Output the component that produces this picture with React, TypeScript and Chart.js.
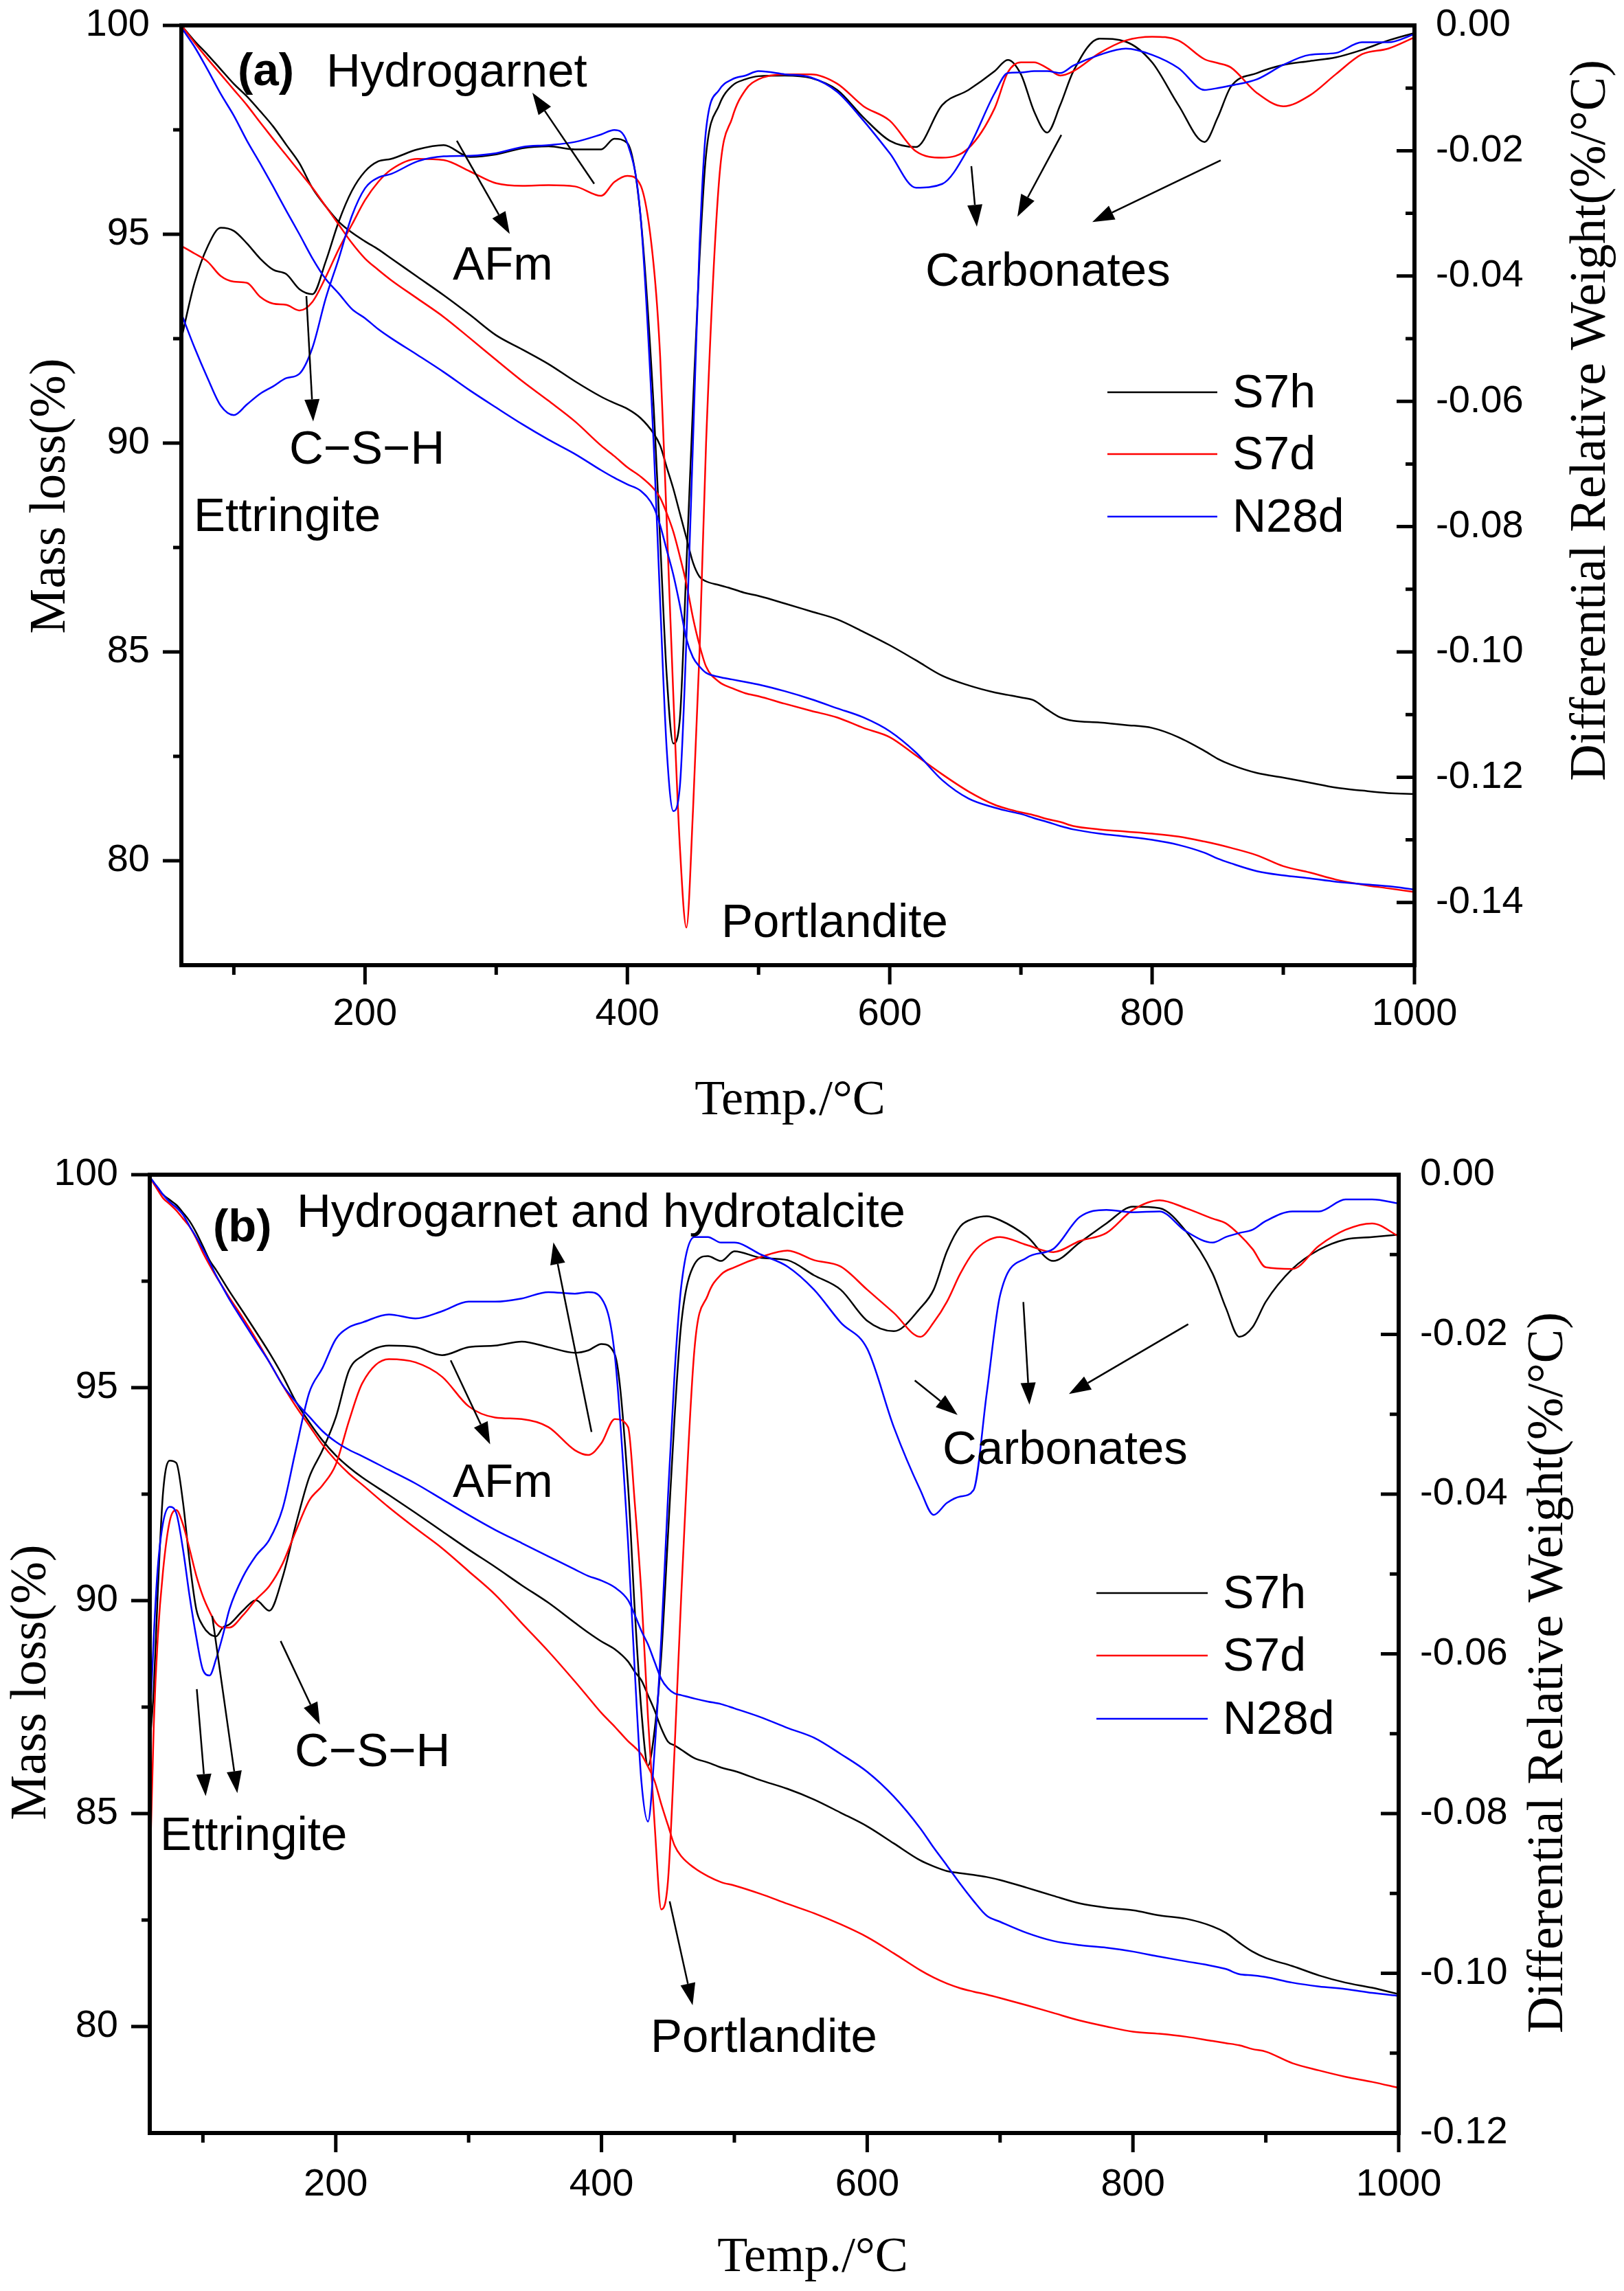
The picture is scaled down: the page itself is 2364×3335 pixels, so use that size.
import React, { useEffect, useRef } from "react";
import { Chart, registerables } from "chart.js";

Chart.register(...registerables);

const SANS = '"Liberation Sans", Arial, sans-serif';
const SERIF = '"Liberation Serif", "Times New Roman", serif';

const sampleNames = ["S7h", "S7d", "N28d"];
const sampleColors = ["#000000", "#ff0000", "#0000ff"];

const tempTicks = [200, 400, 600, 800, 1000];
const massTicks = [80, 85, 90, 95, 100];
const dtgTicksA = [0, -0.02, -0.04, -0.06, -0.08, -0.1, -0.12, -0.14];
const dtgTicksB = [0, -0.02, -0.04, -0.06, -0.08, -0.1, -0.12];

// ---- panel (a) ----
const tempA = [60, 70, 80, 90, 100, 110, 120, 130, 140, 150, 160, 170, 180, 190, 200, 210, 220, 240, 260, 280, 300, 320, 340, 360, 380, 390, 400, 410, 420, 425, 430, 435, 440, 445, 450, 455, 460, 470, 480, 490, 500, 520, 540, 560, 580, 600, 620, 640, 660, 680, 690, 700, 710, 720, 730, 740, 760, 780, 800, 820, 840, 850, 860, 880, 900, 920, 940, 960, 980, 1000];

const tgS7hA = [100.0, 99.63, 99.3, 98.95, 98.6, 98.3, 97.95, 97.58, 97.14, 96.7, 96.1, 95.67, 95.3, 95.04, 94.83, 94.64, 94.42, 93.98, 93.54, 93.07, 92.58, 92.24, 91.89, 91.48, 91.11, 90.96, 90.82, 90.6, 90.23, 89.94, 89.42, 88.91, 88.32, 87.73, 87.14, 86.8, 86.69, 86.6, 86.51, 86.41, 86.34, 86.16, 85.97, 85.78, 85.48, 85.16, 84.8, 84.43, 84.2, 84.03, 83.97, 83.91, 83.84, 83.62, 83.43, 83.35, 83.31, 83.25, 83.18, 82.96, 82.63, 82.44, 82.3, 82.1, 81.99, 81.87, 81.75, 81.68, 81.62, 81.6];
const tgS7dA = [100.0, 99.59, 99.2, 98.83, 98.46, 98.09, 97.68, 97.28, 96.89, 96.5, 96.11, 95.67, 95.23, 94.79, 94.42, 94.15, 93.9, 93.46, 93.02, 92.51, 91.99, 91.48, 91.01, 90.52, 89.94, 89.69, 89.42, 89.2, 88.91, 88.69, 88.32, 87.88, 87.29, 86.63, 85.82, 85.16, 84.65, 84.28, 84.13, 84.01, 83.94, 83.76, 83.59, 83.43, 83.18, 82.96, 82.52, 82.07, 81.66, 81.34, 81.24, 81.16, 81.09, 81.0, 80.93, 80.83, 80.75, 80.7, 80.65, 80.58, 80.46, 80.39, 80.31, 80.13, 79.87, 79.72, 79.55, 79.43, 79.34, 79.25];
const tgN28dA = [99.95, 99.49, 98.94, 98.36, 97.84, 97.24, 96.7, 96.14, 95.56, 95.0, 94.42, 93.93, 93.58, 93.21, 92.99, 92.73, 92.51, 92.11, 91.7, 91.26, 90.85, 90.45, 90.08, 89.74, 89.35, 89.17, 89.01, 88.86, 88.47, 88.03, 87.44, 86.85, 86.12, 85.31, 84.87, 84.65, 84.5, 84.4, 84.34, 84.28, 84.22, 84.06, 83.87, 83.65, 83.43, 83.1, 82.59, 81.93, 81.49, 81.27, 81.19, 81.12, 81.02, 80.93, 80.83, 80.75, 80.65, 80.58, 80.5, 80.38, 80.19, 80.05, 79.94, 79.75, 79.65, 79.58, 79.5, 79.44, 79.39, 79.31];

const dtgS7hA = [-0.05, -0.0411, -0.0353, -0.0323, -0.0328, -0.0348, -0.0372, -0.039, -0.0397, -0.0421, -0.0429, -0.0377, -0.0313, -0.0264, -0.0233, -0.0217, -0.0213, -0.0198, -0.0191, -0.021, -0.0206, -0.0196, -0.0193, -0.0198, -0.0198, -0.0181, -0.0188, -0.0304, -0.0607, -0.0823, -0.1038, -0.1146, -0.1107, -0.0862, -0.0607, -0.0372, -0.0206, -0.0127, -0.0096, -0.0086, -0.0081, -0.008, -0.0084, -0.0103, -0.0147, -0.0184, -0.0194, -0.0127, -0.0103, -0.0073, -0.0055, -0.0078, -0.0137, -0.0171, -0.0127, -0.0073, -0.0021, -0.0026, -0.0059, -0.0127, -0.0186, -0.0147, -0.0098, -0.0076, -0.0063, -0.0057, -0.0051, -0.0039, -0.0024, -0.0012];
const dtgS7dA = [-0.0352, -0.0364, -0.0377, -0.04, -0.0409, -0.0411, -0.0433, -0.0444, -0.0446, -0.0455, -0.0441, -0.0402, -0.0357, -0.0318, -0.0279, -0.025, -0.023, -0.0213, -0.0215, -0.0233, -0.0252, -0.0256, -0.0255, -0.0257, -0.0272, -0.025, -0.024, -0.0255, -0.0382, -0.0529, -0.0793, -0.1068, -0.131, -0.144, -0.1254, -0.1, -0.0666, -0.0245, -0.0147, -0.0103, -0.0086, -0.0078, -0.0078, -0.0093, -0.0129, -0.0152, -0.0201, -0.0211, -0.0196, -0.0132, -0.0075, -0.0059, -0.0059, -0.0068, -0.008, -0.0073, -0.0044, -0.0024, -0.0018, -0.0024, -0.0054, -0.006, -0.0067, -0.0108, -0.0129, -0.0112, -0.0078, -0.0046, -0.0037, -0.0019];
const dtgN28dA = [-0.046, -0.0514, -0.0563, -0.0607, -0.0622, -0.0605, -0.0588, -0.0576, -0.0563, -0.0556, -0.0514, -0.0436, -0.0372, -0.0304, -0.026, -0.0243, -0.0237, -0.0217, -0.0209, -0.0208, -0.0204, -0.0194, -0.0191, -0.0186, -0.0174, -0.0167, -0.0188, -0.0304, -0.0666, -0.0921, -0.1156, -0.1254, -0.1215, -0.098, -0.0666, -0.0352, -0.0166, -0.0103, -0.0086, -0.008, -0.0073, -0.0078, -0.0083, -0.0106, -0.0152, -0.0204, -0.0259, -0.0253, -0.0196, -0.0108, -0.0076, -0.0075, -0.0073, -0.0073, -0.0076, -0.0064, -0.0047, -0.0037, -0.0047, -0.0068, -0.0103, -0.01, -0.0096, -0.0086, -0.0063, -0.0047, -0.0044, -0.0027, -0.0027, -0.0014];

// ---- panel (b) ----
const tempB = [60, 63, 66, 70, 75, 80, 85, 90, 95, 100, 105, 110, 115, 120, 130, 140, 150, 160, 170, 180, 190, 200, 210, 220, 240, 260, 280, 300, 320, 340, 360, 380, 390, 400, 410, 420, 425, 430, 435, 440, 445, 450, 455, 460, 470, 480, 490, 500, 520, 540, 560, 580, 600, 620, 640, 650, 660, 670, 680, 690, 700, 720, 740, 760, 780, 800, 820, 840, 860, 870, 880, 890, 900, 920, 940, 960, 980, 1000];

const tgS7hB = [99.94, 99.82, 99.69, 99.53, 99.41, 99.29, 99.11, 98.91, 98.64, 98.32, 97.99, 97.76, 97.51, 97.26, 96.79, 96.31, 95.82, 95.28, 94.67, 94.19, 93.76, 93.41, 93.13, 92.89, 92.48, 92.06, 91.63, 91.2, 90.79, 90.36, 89.95, 89.48, 89.25, 89.04, 88.86, 88.57, 88.33, 88.13, 87.78, 87.42, 87.0, 86.69, 86.6, 86.5, 86.3, 86.2, 86.08, 86.0, 85.78, 85.58, 85.33, 85.02, 84.7, 84.3, 83.9, 83.76, 83.65, 83.6, 83.56, 83.51, 83.44, 83.26, 83.07, 82.89, 82.79, 82.73, 82.61, 82.53, 82.35, 82.2, 81.97, 81.76, 81.61, 81.42, 81.2, 81.03, 80.91, 80.76];
const tgS7dB = [99.94, 99.79, 99.64, 99.45, 99.31, 99.16, 98.97, 98.78, 98.5, 98.17, 97.88, 97.61, 97.36, 97.11, 96.64, 96.14, 95.6, 95.06, 94.56, 94.11, 93.66, 93.29, 92.98, 92.72, 92.19, 91.7, 91.23, 90.69, 90.14, 89.47, 88.81, 88.1, 87.73, 87.36, 87.04, 86.7, 86.56, 86.39, 86.1, 85.76, 85.22, 84.73, 84.25, 84.0, 83.72, 83.53, 83.39, 83.31, 83.11, 82.88, 82.66, 82.4, 82.1, 81.72, 81.32, 81.15, 81.01, 80.9, 80.82, 80.75, 80.67, 80.5, 80.32, 80.14, 80.0, 79.88, 79.83, 79.76, 79.66, 79.61, 79.56, 79.47, 79.41, 79.14, 78.97, 78.82, 78.7, 78.56];
const tgN28dB = [99.95, 99.82, 99.7, 99.53, 99.36, 99.23, 99.06, 98.79, 98.53, 98.25, 97.95, 97.63, 97.35, 97.07, 96.57, 96.08, 95.6, 95.06, 94.66, 94.32, 93.98, 93.73, 93.54, 93.39, 93.07, 92.75, 92.38, 92.01, 91.66, 91.35, 91.04, 90.73, 90.58, 90.47, 90.31, 90.01, 89.67, 89.29, 88.97, 88.56, 88.16, 87.94, 87.82, 87.78, 87.7, 87.63, 87.57, 87.47, 87.26, 87.01, 86.78, 86.4, 85.98, 85.4, 84.65, 84.2, 83.78, 83.35, 82.95, 82.6, 82.46, 82.2, 82.01, 81.91, 81.85, 81.76, 81.64, 81.53, 81.42, 81.35, 81.23, 81.2, 81.16, 81.03, 80.94, 80.88, 80.79, 80.72];

const dtgS7hB = [-0.0712, -0.0645, -0.0524, -0.0398, -0.0358, -0.0361, -0.041, -0.0485, -0.0544, -0.0565, -0.0575, -0.0578, -0.0567, -0.0563, -0.0546, -0.0533, -0.0546, -0.0504, -0.0438, -0.0379, -0.0345, -0.0304, -0.0245, -0.0227, -0.0214, -0.0216, -0.0226, -0.0216, -0.0214, -0.0209, -0.0216, -0.0223, -0.022, -0.0212, -0.0225, -0.039, -0.0544, -0.0671, -0.074, -0.0695, -0.0602, -0.0453, -0.0304, -0.0187, -0.0112, -0.0102, -0.0108, -0.0096, -0.0104, -0.0107, -0.0126, -0.0144, -0.0183, -0.0196, -0.0167, -0.0144, -0.0096, -0.0065, -0.0055, -0.0052, -0.0057, -0.0077, -0.0108, -0.0085, -0.0061, -0.004, -0.0042, -0.0071, -0.0124, -0.0167, -0.0203, -0.0191, -0.0159, -0.0118, -0.0094, -0.0081, -0.0078, -0.0075];
const dtgS7dB = [-0.088, -0.069, -0.058, -0.0496, -0.0434, -0.042, -0.0438, -0.0469, -0.0502, -0.0528, -0.0547, -0.0562, -0.0567, -0.0567, -0.0552, -0.0532, -0.0515, -0.0487, -0.0446, -0.0408, -0.0389, -0.0363, -0.0308, -0.0261, -0.0231, -0.0235, -0.0253, -0.029, -0.0304, -0.0306, -0.0316, -0.0345, -0.0351, -0.0336, -0.0306, -0.0316, -0.041, -0.0524, -0.068, -0.0814, -0.092, -0.0885, -0.072, -0.0528, -0.0218, -0.0151, -0.0125, -0.0116, -0.0103, -0.0095, -0.0107, -0.0115, -0.0144, -0.0173, -0.0203, -0.0185, -0.0159, -0.0124, -0.0097, -0.0083, -0.0078, -0.0088, -0.0097, -0.0083, -0.0073, -0.0044, -0.0032, -0.0042, -0.0055, -0.0061, -0.0075, -0.0093, -0.0116, -0.0118, -0.0089, -0.0069, -0.0061, -0.0077];
const dtgN28dB = [-0.0696, -0.0579, -0.0493, -0.0436, -0.0416, -0.0424, -0.0469, -0.0528, -0.0579, -0.062, -0.0627, -0.0606, -0.0577, -0.0544, -0.0504, -0.0477, -0.0457, -0.0418, -0.0344, -0.0273, -0.0242, -0.0206, -0.0191, -0.0185, -0.0175, -0.018, -0.0171, -0.0159, -0.0159, -0.0155, -0.0147, -0.0149, -0.0147, -0.0155, -0.0226, -0.0461, -0.062, -0.0759, -0.081, -0.072, -0.058, -0.0405, -0.0249, -0.014, -0.0078, -0.0078, -0.0085, -0.0085, -0.01, -0.0115, -0.0144, -0.0185, -0.0218, -0.0316, -0.0395, -0.0426, -0.0411, -0.0403, -0.0395, -0.0273, -0.0151, -0.0104, -0.0093, -0.0053, -0.0044, -0.0047, -0.0046, -0.0071, -0.0085, -0.0078, -0.0073, -0.0069, -0.0058, -0.0046, -0.0046, -0.0031, -0.0031, -0.0036];

type Note = { text: string; t: number; m: number; bold?: boolean };
type Arrow = [number, number, number, number];

const notesA: Note[] = [
  { text: "(a)", t: 103, m: 98.57, bold: true },
  { text: "Hydrogarnet", t: 170.5, m: 98.54 },
  { text: "AFm", t: 266.9, m: 93.91 },
  { text: "C\u2212S\u2212H", t: 142.2, m: 89.5 },
  { text: "Ettringite", t: 69.4, m: 87.89 },
  { text: "Portlandite", t: 471.6, m: 78.18 },
  { text: "Carbonates", t: 627.1, m: 93.76 },
];
const arrowsA: Arrow[] = [
  [374.7, 96.21, 327.6, 98.39],
  [270, 97.24, 310.3, 95.01],
  [155.3, 93.52, 160.5, 90.52],
  [662.2, 96.63, 666.4, 95.18],
  [730.8, 97.38, 697.3, 95.42],
  [852.3, 96.77, 754.4, 95.29],
];
const notesB: Note[] = [
  { text: "(b)", t: 107.6, m: 98.43, bold: true },
  { text: "Hydrogarnet and hydrotalcite", t: 170.6, m: 98.77 },
  { text: "AFm", t: 288, m: 92.44 },
  { text: "C\u2212S\u2212H", t: 169.1, m: 86.11 },
  { text: "Ettringite", t: 67.8, m: 84.15 },
  { text: "Portlandite", t: 436.9, m: 79.4 },
  { text: "Carbonates", t: 656.7, m: 93.21 },
];
const arrowsB: Arrow[] = [
  [392.5, 93.96, 363.8, 98.41],
  [286.5, 95.64, 316.2, 93.67],
  [158.5, 89.05, 188.1, 87.09],
  [95.4, 87.92, 102.1, 85.41],
  [107, 89.64, 125.9, 85.48],
  [451.3, 82.94, 468.6, 80.5],
  [635.8, 95.17, 668, 94.36],
  [717.5, 97.01, 722.1, 94.6],
  [841.6, 96.49, 751.8, 94.85],
];

type PanelSpec = {
  temps: number[];
  tg: number[][];
  dtg: number[][];
  dtgMin: number;
  dtgTicks: number[];
  height: number;
  top: number;
  leftW: number;
  rightW: number;
  bottomH: number;
  xPad: number;
  notes: Note[];
  arrows: Arrow[];
  legend: { x0: number; x1: number; tx: number; ys: number[] };
  yTitleL: [number, number];
  yTitleR: [number, number];
  xTitle: [number, number];
};

function drawArrow(ctx: CanvasRenderingContext2D, x1: number, y1: number, x2: number, y2: number) {
  const a = Math.atan2(y2 - y1, x2 - x1);
  const hl = 32;
  const hw = 11;
  const bx = x2 - hl * Math.cos(a);
  const by = y2 - hl * Math.sin(a);
  ctx.beginPath();
  ctx.moveTo(x1, y1);
  ctx.lineTo(bx, by);
  ctx.stroke();
  ctx.beginPath();
  ctx.moveTo(x2, y2);
  ctx.lineTo(bx + hw * Math.sin(a), by - hw * Math.cos(a));
  ctx.lineTo(bx - hw * Math.sin(a), by + hw * Math.cos(a));
  ctx.closePath();
  ctx.fill();
}

// stop chart.js from growing the plot area for tick-label overhang
const noPad = (s: any) => {
  s.paddingTop = 0;
  s.paddingBottom = 0;
  s.paddingLeft = 0;
  s.paddingRight = 0;
};

function Panel(p: PanelSpec) {
  const ref = useRef<HTMLCanvasElement>(null);

  useEffect(() => {
    const datasets: any[] = [];
    [2, 1, 0].forEach((i) => {
      datasets.push({
        label: sampleNames[i] + " TG",
        data: p.temps.map((t, k) => ({ x: t, y: p.tg[i][k] })),
        yAxisID: "yL",
        borderColor: sampleColors[i],
        borderWidth: 2.5,
        pointRadius: 0,
        cubicInterpolationMode: "monotone",
      });
      datasets.push({
        label: sampleNames[i] + " DTG",
        data: p.temps.map((t, k) => ({ x: t, y: p.dtg[i][k] })),
        yAxisID: "yR",
        borderColor: sampleColors[i],
        borderWidth: 2.5,
        pointRadius: 0,
        cubicInterpolationMode: "monotone",
      });
    });

    const tickFont = { family: SANS, size: 56, lineHeight: 1 };

    const decor = {
      id: "decor",
      afterDraw(chart: any) {
        const ctx: CanvasRenderingContext2D = chart.ctx;
        const { left, right, top, bottom } = chart.chartArea;
        const xs = chart.scales.x;
        const yl = chart.scales.yL;
        const yr = chart.scales.yR;
        ctx.save();
        ctx.strokeStyle = "#000";
        ctx.fillStyle = "#000";
        ctx.lineCap = "butt";

        // tick marks
        ctx.lineWidth = 5;
        ctx.beginPath();
        for (let v = 100; v <= 1000; v += 100) {
          const x = xs.getPixelForValue(v);
          const len = v % 200 === 0 ? 28 : 14;
          ctx.moveTo(x, bottom);
          ctx.lineTo(x, bottom + len);
        }
        for (let k = 0; k <= 8; k++) {
          const v = 80 + k * 2.5;
          const y = yl.getPixelForValue(v);
          const len = k % 2 === 0 ? 27 : 12;
          ctx.moveTo(left - len, y);
          ctx.lineTo(left, y);
        }
        const nR = Math.round(-p.dtgMin / 0.01);
        for (let k = 0; k < nR; k++) {
          const y = yr.getPixelForValue(-k * 0.01);
          const len = k % 2 === 0 ? 26 : 13;
          ctx.moveTo(right - len, y);
          ctx.lineTo(right, y);
        }
        ctx.stroke();

        // frame
        ctx.lineWidth = 6;
        ctx.strokeRect(left, top, right - left, bottom - top);

        // axis titles
        ctx.font = `74px ${SERIF}`;
        ctx.textAlign = "center";
        ctx.textBaseline = "alphabetic";
        ctx.save();
        ctx.translate(p.yTitleL[0], p.yTitleL[1]);
        ctx.rotate(-Math.PI / 2);
        ctx.fillText("Mass loss(%)", 0, 0);
        ctx.restore();
        ctx.save();
        ctx.translate(p.yTitleR[0], p.yTitleR[1]);
        ctx.rotate(-Math.PI / 2);
        ctx.fillText("Differential Relative Weight(%/\u00B0C)", 0, 0);
        ctx.restore();
        ctx.font = `72px ${SERIF}`;
        ctx.fillText("Temp./\u00B0C", p.xTitle[0], p.xTitle[1]);

        // labels and arrows
        ctx.textAlign = "left";
        p.notes.forEach((n) => {
          ctx.font = n.bold ? `bold 67px ${SANS}` : `69px ${SANS}`;
          ctx.fillText(n.text, xs.getPixelForValue(n.t), yl.getPixelForValue(n.m));
        });
        ctx.lineWidth = 2.5;
        p.arrows.forEach((a) => {
          drawArrow(
            ctx,
            xs.getPixelForValue(a[0]),
            yl.getPixelForValue(a[1]),
            xs.getPixelForValue(a[2]),
            yl.getPixelForValue(a[3])
          );
        });

        // legend
        ctx.font = `68px ${SANS}`;
        ctx.textBaseline = "middle";
        sampleNames.forEach((name, i) => {
          const y = p.legend.ys[i];
          ctx.strokeStyle = sampleColors[i];
          ctx.lineWidth = 2.5;
          ctx.beginPath();
          ctx.moveTo(p.legend.x0, y);
          ctx.lineTo(p.legend.x1, y);
          ctx.stroke();
          ctx.fillStyle = "#000";
          ctx.fillText(name, p.legend.tx, y + 3);
        });
        ctx.restore();
      },
    };

    const chart = new Chart(ref.current as HTMLCanvasElement, {
      type: "line",
      data: { datasets },
      plugins: [decor],
      options: {
        responsive: false,
        animation: false,
        devicePixelRatio: 1,
        layout: { padding: { left: 0, right: 0, top: p.top, bottom: 0 } },
        plugins: { legend: { display: false }, tooltip: { enabled: false } },
        scales: {
          x: {
            type: "linear",
            min: 60,
            max: 1000,
            grid: { display: false, drawTicks: false },
            border: { display: false },
            afterBuildTicks: (s: any) => {
              s.ticks = tempTicks.map((v) => ({ value: v }));
            },
            afterFit: (s: any) => {
              s.height = p.bottomH;
              noPad(s);
            },
            ticks: {
              font: tickFont,
              color: "#000",
              padding: p.xPad,
              autoSkip: false,
              maxRotation: 0,
              minRotation: 0,
              callback: (v: any) => String(v),
            },
          },
          yL: {
            type: "linear",
            position: "left",
            min: 77.5,
            max: 100,
            grid: { display: false, drawTicks: false },
            border: { display: false },
            afterBuildTicks: (s: any) => {
              s.ticks = massTicks.map((v) => ({ value: v }));
            },
            afterFit: (s: any) => {
              s.width = p.leftW;
              noPad(s);
            },
            ticks: { font: tickFont, color: "#000", padding: 46, callback: (v: any) => String(v) },
          },
          yR: {
            type: "linear",
            position: "right",
            min: p.dtgMin,
            max: 0,
            grid: { display: false, drawTicks: false },
            border: { display: false },
            afterBuildTicks: (s: any) => {
              s.ticks = p.dtgTicks.map((v) => ({ value: v }));
            },
            afterFit: (s: any) => {
              s.width = p.rightW;
              noPad(s);
            },
            ticks: {
              font: tickFont,
              color: "#000",
              padding: 31,
              callback: (v: any) => Number(v).toFixed(2),
            },
          },
        },
      } as any,
    });
    return () => chart.destroy();
  }, []);

  return <canvas ref={ref} width={2364} height={p.height} style={{ display: "block" }} />;
}

export default function App() {
  return (
    <div style={{ position: "absolute", left: 0, top: 0, width: 2364, height: 3335, background: "#fff" }}>
      <Panel
        temps={tempA}
        tg={[tgS7hA, tgS7dA, tgN28dA]}
        dtg={[dtgS7hA, dtgS7dA, dtgN28dA]}
        dtgMin={-0.15}
        dtgTicks={dtgTicksA}
        height={1680}
        top={37}
        leftW={264}
        rightW={305}
        bottomH={275}
        xPad={44}
        notes={notesA}
        arrows={arrowsA}
        legend={{ x0: 1612, x1: 1772, tx: 1794, ys: [571, 661, 752] }}
        yTitleL={[94, 722]}
        yTitleR={[2336, 612]}
        xTitle={[1150, 1622]}
      />
      <Panel
        temps={tempB}
        tg={[tgS7hB, tgS7dB, tgN28dB]}
        dtg={[dtgS7hB, dtgS7dB, dtgN28dB]}
        dtgMin={-0.12}
        dtgTicks={dtgTicksB}
        height={1655}
        top={30}
        leftW={218}
        rightW={328}
        bottomH={230}
        xPad={48}
        notes={notesB}
        arrows={arrowsB}
        legend={{ x0: 1596, x1: 1758, tx: 1780, ys: [639, 730, 822] }}
        yTitleL={[66, 769]}
        yTitleR={[2274, 755]}
        xTitle={[1183, 1626]}
      />
    </div>
  );
}
